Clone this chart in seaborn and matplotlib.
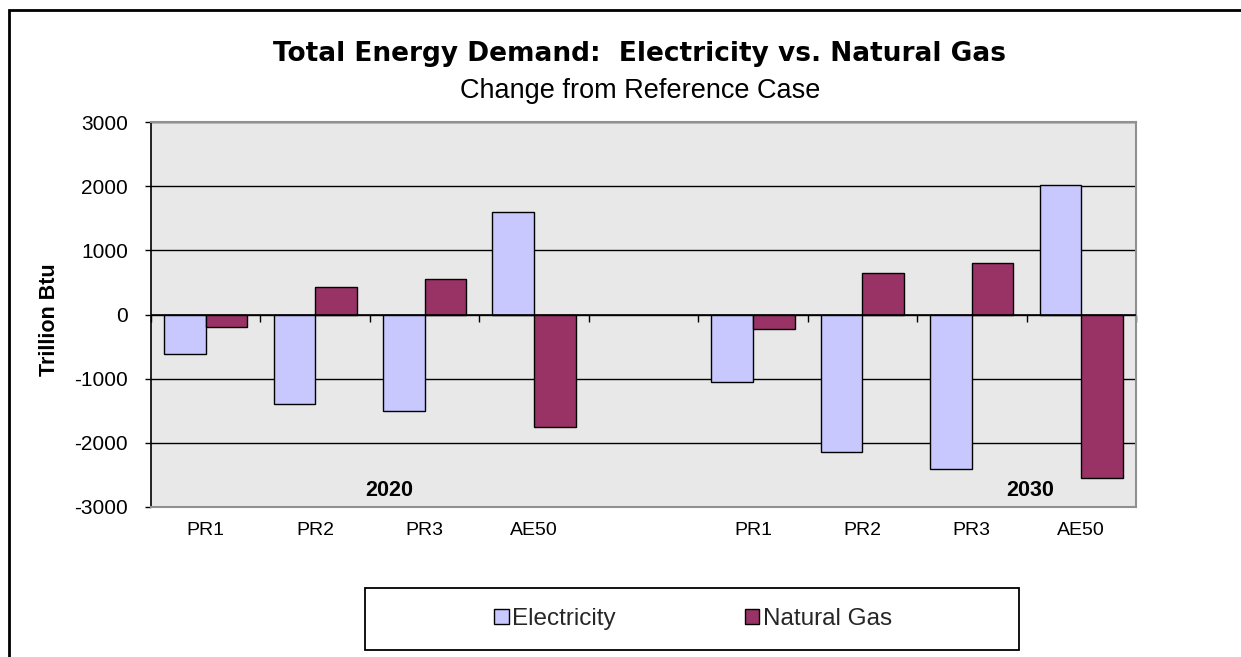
import numpy as np
import pandas as pd
import matplotlib
matplotlib.use("Agg")
import matplotlib.pyplot as plt
import seaborn as sns
from matplotlib.patches import Rectangle

# ---- data ----
slots = ["2020 PR1", "2020 PR2", "2020 PR3", "2020 AE50", "gap",
         "2030 PR1", "2030 PR2", "2030 PR3", "2030 AE50"]
tick_labels = ["PR1", "PR2", "PR3", "AE50", "", "PR1", "PR2", "PR3", "AE50"]
data_slots = ["2020 PR1", "2020 PR2", "2020 PR3", "2020 AE50",
              "2030 PR1", "2030 PR2", "2030 PR3", "2030 AE50"]
electricity = [-620, -1400, -1500, 1590, -1050, -2150, -2400, 2020]
natural_gas = [-200, 430, 550, -1750, -225, 650, 800, -2550]
series = ["Electricity", "Natural Gas"]
colors = ["#C8C8FF", "#993366"]
yticks = [-3000, -2000, -1000, 0, 1000, 2000, 3000]
year_labels = ["2020", "2030"]

df = pd.DataFrame({
    "slot": data_slots * 2,
    "series": [series[0]] * len(electricity) + [series[1]] * len(natural_gas),
    "value": electricity + natural_gas,
})

sns.set_theme(style="white")
plt.rcParams['font.family'] = ['Liberation Sans', 'DejaVu Sans']

W, H = 1241, 657
fig = plt.figure(figsize=(W / 100, H / 100), dpi=100)
fig.patch.set_facecolor("white")
ax = fig.add_axes([151 / W, 1 - 507 / H, (1136 - 151) / W, (507 - 122) / H])

sns.barplot(data=df, x="slot", y="value", hue="series", order=slots,
            hue_order=series, palette=colors, saturation=1, width=0.76, gap=0,
            edgecolor="black", linewidth=1.0, ax=ax, zorder=3)

ax.set_facecolor("#E8E8E8")
ax.set_ylim(-3000, 3000)
ax.set_xlim(-0.5, len(slots) - 0.5)
ax.set_yticks(yticks)
ax.set_yticklabels([str(v) for v in yticks])
ax.yaxis.grid(True, color="black", linewidth=1.0, zorder=1)
ax.set_axisbelow(True)
ax.axhline(0, color="black", linewidth=1.2, zorder=4)

# category labels at bottom
ax.set_xticks(range(len(slots)))
ax.set_xticklabels(tick_labels)
ax.tick_params(axis="x", length=0, pad=11, labelsize=14, colors="black")
ax.tick_params(axis="y", direction="out", length=4.5, width=1, color="black",
               pad=12, labelsize=15, labelcolor="black", left=True)
ax.set_xlabel("")
ax.set_ylabel("Trillion Btu", fontsize=15.5, fontweight="bold", color="black")
ax.yaxis.set_label_coords(-0.092, 0.486)

# tick marks at category boundaries on the zero line
sec = ax.secondary_xaxis(0, transform=ax.transData)
sec.set_xticks(np.arange(len(slots) + 1) - 0.5)
sec.set_xticklabels([])
sec.tick_params(axis="x", direction="out", length=5, width=1, color="black")
sec.spines["bottom"].set_visible(False)

for side in ["top", "right", "bottom"]:
    ax.spines[side].set_color("#909090")
    ax.spines[side].set_linewidth(1.5)
ax.spines["left"].set_color("black")
ax.spines["left"].set_linewidth(1.2)

# year labels
ax.text(1.68, -2750, year_labels[0], ha="center", va="center",
        fontsize=15.5, fontweight="bold", color="black")
ax.text(7.53, -2750, year_labels[1], ha="center", va="center",
        fontsize=15.5, fontweight="bold", color="black")

# titles
fig.text(640 / W, 1 - 54 / H, "Total Energy Demand:  Electricity vs. Natural Gas",
         ha="center", va="center", fontsize=19, fontweight="bold", color="black",
         family=["DejaVu Sans"])
fig.text(640 / W, 1 - 91 / H, "Change from Reference Case",
         ha="center", va="center", fontsize=19.5, color="black")

# legend
handles, labels = ax.get_legend_handles_labels()
if ax.get_legend() is not None:
    ax.get_legend().remove()
fig.legend(handles, labels, loc="center", bbox_to_anchor=(693 / W, 1 - 619 / H),
           ncol=2, frameon=False, fontsize=17.5, handlelength=0.6, handleheight=0.6,
           handletextpad=0.15, columnspacing=5.3)
fig.add_artist(Rectangle((365 / W, 1 - 650 / H), 654 / W, 62 / H,
                         transform=fig.transFigure, fill=False,
                         edgecolor="black", linewidth=1.3))

# outer chart border (top and left visible)
fig.add_artist(Rectangle((9 / W, -0.2), 1.3, 1.2 - 10 / H,
                         transform=fig.transFigure, fill=False,
                         edgecolor="black", linewidth=2))

fig.savefig("out.png", dpi=100, facecolor="white")
